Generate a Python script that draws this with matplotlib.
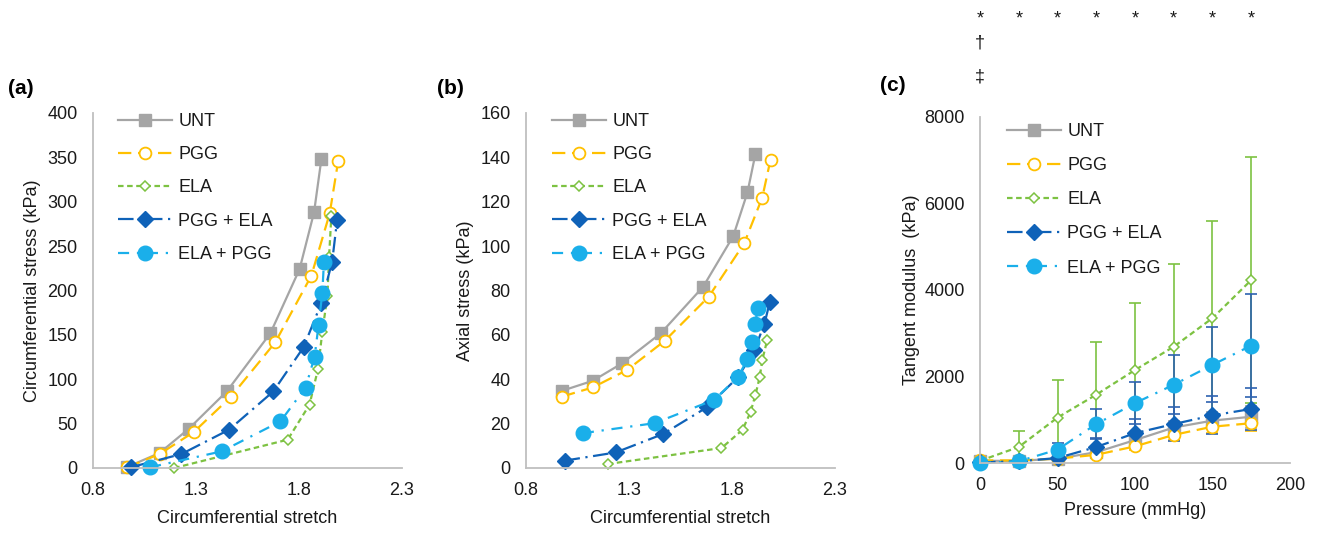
import matplotlib
matplotlib.use("Agg")
import matplotlib.pyplot as plt
from matplotlib.transforms import blended_transform_factory

plt.rcParams['font.family'] = ['Liberation Sans', 'DejaVu Sans']

# ---- data: panel (a) circumferential stress vs stretch ----
a_unt_x = [0.963, 1.123, 1.265, 1.449, 1.661, 1.803, 1.873, 1.909]
a_unt_y = [0.8, 16.9, 44.2, 86.2, 151.8, 224.2, 288.0, 348.7]
a_pgg_x = [0.966, 1.123, 1.289, 1.468, 1.685, 1.860, 1.949, 1.990]
a_pgg_y = [0.8, 15.7, 40.5, 79.9, 141.7, 216.7, 286.8, 345.6]
a_ela_x = [1.194, 1.745, 1.851, 1.892, 1.913, 1.938, 1.946, 1.957]
a_ela_y = [0.0, 31.9, 71.3, 111.4, 153.0, 194.3, 238.0, 284.0]
a_pe_x = [0.983, 1.229, 1.460, 1.675, 1.822, 1.908, 1.961, 1.985]
a_pe_y = [0.8, 15.7, 43.1, 86.2, 136.0, 185.6, 232.5, 279.4]
a_ep_x = [1.077, 1.424, 1.710, 1.832, 1.876, 1.895, 1.913, 1.921]
a_ep_y = [0.8, 18.7, 52.5, 90.7, 125.6, 161.2, 196.8, 231.7]

# ---- data: panel (b) axial stress vs stretch ----
b_unt_x = [0.975, 1.124, 1.267, 1.454, 1.660, 1.806, 1.875, 1.914]
b_unt_y = [34.8, 39.3, 47.2, 60.7, 81.7, 104.5, 124.2, 141.7]
b_pgg_x = [0.975, 1.124, 1.291, 1.473, 1.687, 1.859, 1.947, 1.987]
b_pgg_y = [32.2, 36.3, 44.2, 57.3, 77.2, 101.2, 121.9, 139.0]
b_ela_x = [1.197, 1.749, 1.851, 1.890, 1.914, 1.935, 1.947, 1.971]
b_ela_y = [1.8, 9.0, 17.2, 25.2, 33.0, 41.2, 48.7, 57.7]
b_pe_x = [0.987, 1.235, 1.465, 1.679, 1.830, 1.908, 1.957, 1.984]
b_pe_y = [3.3, 7.0, 15.3, 27.4, 41.0, 53.0, 64.8, 75.0]
b_ep_x = [1.076, 1.424, 1.713, 1.830, 1.874, 1.895, 1.911, 1.927]
b_ep_y = [15.7, 20.2, 30.7, 41.0, 49.0, 57.0, 64.8, 72.3]

# ---- data: panel (c) tangent modulus vs pressure ----
pressure = [0, 25, 50, 75, 100, 125, 150, 175]
c_unt = [50, 50, 100, 250, 530, 820, 980, 1070]
c_unt_err = [0, 0, 30, 60, 100, 150, 200, 250]
c_pgg = [60, 60, 100, 190, 385, 650, 840, 920]
c_pgg_err = [0, 0, 20, 50, 80, 120, 150, 170]
c_ela = [50, 370, 1050, 1580, 2150, 2690, 3350, 4230]
c_ela_err = [0, 380, 870, 1210, 1540, 1920, 2250, 2850]
c_pe = [15, 40, 115, 370, 690, 900, 1100, 1250]
c_pe_err = [0, 20, 150, 200, 330, 400, 440, 480]
c_ep = [0, 40, 310, 900, 1385, 1810, 2270, 2715]
c_ep_err = [0, 20, 150, 350, 480, 680, 870, 1190]

labels = ["UNT", "PGG", "ELA", "PGG + ELA", "ELA + PGG"]
sig_rows = ["*", "\u2020", "\u2021"]

GRAY = "#A5A5A5"
ORANGE = "#FFC000"
GREEN = "#7DC242"
DBLUE = "#0F62B8"
LBLUE = "#1AAFEA"
EBLUE = "#2E62B0"
TXT = "#1a1a1a"

styles = [
    dict(color=GRAY, lw=1.6, ls="-", marker="s", ms=9, mfc=GRAY, mec=GRAY),
    dict(color=ORANGE, lw=1.6, ls=(0, (6, 3)), marker="o", ms=8.5,
         mfc="white", mec=ORANGE, mew=1.3),
    dict(color=GREEN, lw=1.6, ls=(0, (2.5, 1.6)), marker="D", ms=5.5,
         mfc="white", mec=GREEN, mew=1.1),
    dict(color=DBLUE, lw=1.6, ls=(0, (7, 2.5, 1, 2.5)), marker="D", ms=8,
         mfc=DBLUE, mec=DBLUE),
    dict(color=LBLUE, lw=1.6, ls=(0, (5, 3.5, 1, 3.5)), marker="o", ms=10.5,
         mfc=LBLUE, mec=LBLUE),
]

W, H = 1323, 537
fig = plt.figure(figsize=(W / 100, H / 100), dpi=100)


def px_axes(l, t, r, b):
    return fig.add_axes([l / W, 1 - b / H, (r - l) / W, (b - t) / H])


def style_axes(ax):
    for s in ["top", "right"]:
        ax.spines[s].set_visible(False)
    for s in ["left", "bottom"]:
        ax.spines[s].set_color("#BFBFBF")
        ax.spines[s].set_linewidth(1.3)
    ax.tick_params(length=0, labelsize=13, colors=TXT)
    ax.tick_params(axis="y", pad=11)
    ax.tick_params(axis="x", pad=10)


def add_legend(ax, x, y, spacing):
    h, l = ax.get_legend_handles_labels()
    fig.legend(h, l, loc="upper left", bbox_to_anchor=(x / W, 1 - y / H),
               frameon=False, fontsize=13, borderpad=0, borderaxespad=0,
               handlelength=3.0, handletextpad=0.35, labelspacing=spacing,
               numpoints=1, labelcolor=TXT)


# panel (a)
ax_a = px_axes(93, 113, 402, 468)
series_a = [(a_unt_x, a_unt_y), (a_pgg_x, a_pgg_y), (a_ela_x, a_ela_y),
            (a_pe_x, a_pe_y), (a_ep_x, a_ep_y)]
for (x, y), lab, st in zip(series_a, labels, styles):
    ax_a.plot(x, y, label=lab, clip_on=False, **st)
ax_a.set_xlim(0.8, 2.3)
ax_a.set_ylim(0, 400)
ax_a.set_xticks([0.8, 1.3, 1.8, 2.3])
ax_a.set_yticks(range(0, 401, 50))
style_axes(ax_a)
ax_a.set_xlabel("Circumferential stretch", fontsize=13, color=TXT, labelpad=8)
ax_a.set_ylabel("Circumferential stress (kPa)", fontsize=13, color=TXT,
                labelpad=5)
add_legend(ax_a, 118, 113, 0.9)

# panel (b)
ax_b = px_axes(526, 113, 835, 468)
series_b = [(b_unt_x, b_unt_y), (b_pgg_x, b_pgg_y), (b_ela_x, b_ela_y),
            (b_pe_x, b_pe_y), (b_ep_x, b_ep_y)]
for (x, y), lab, st in zip(series_b, labels, styles):
    ax_b.plot(x, y, label=lab, clip_on=False, **st)
ax_b.set_xlim(0.8, 2.3)
ax_b.set_ylim(0, 160)
ax_b.set_xticks([0.8, 1.3, 1.8, 2.3])
ax_b.set_yticks(range(0, 161, 20))
style_axes(ax_b)
ax_b.set_xlabel("Circumferential stretch", fontsize=13, color=TXT, labelpad=8)
ax_b.set_ylabel("Axial stress (kPa)", fontsize=13, color=TXT, labelpad=5)
add_legend(ax_b, 552, 113, 0.9)

# panel (c)
ax_c = px_axes(980, 117, 1290, 463)
means_c = [c_unt, c_pgg, c_ela, c_pe, c_ep]
errs_c = [c_unt_err, c_pgg_err, c_ela_err, c_pe_err, c_ep_err]
ecols = [GRAY, ORANGE, GREEN, EBLUE, EBLUE]
for m, e, ec in zip(means_c, errs_c, ecols):
    ax_c.errorbar(pressure, m, yerr=e, fmt="none", ecolor=ec, elinewidth=1.2,
                  capsize=4.5, capthick=1.2, clip_on=False, zorder=1)
for m, lab, st in zip(means_c, labels, styles):
    ax_c.plot(pressure, m, label=lab, clip_on=False, zorder=2, **st)
ax_c.set_xlim(0, 200)
ax_c.set_ylim(0, 8000)
ax_c.set_xticks(range(0, 201, 50))
ax_c.set_yticks(range(0, 8001, 2000))
style_axes(ax_c)
ax_c.set_xlabel("Pressure (mmHg)", fontsize=13, color=TXT, labelpad=6)
ax_c.set_ylabel("Tangent modulus  (kPa)", fontsize=13, color=TXT, labelpad=3)
add_legend(ax_c, 1007, 123, 0.95)

# significance markers above panel (c)
tr = blended_transform_factory(ax_c.transData, fig.transFigure)
for p in pressure:
    ax_c.text(p, 1 - 19 / H, sig_rows[0], transform=tr, ha="center",
              va="center", fontsize=13, color=TXT)
ax_c.text(0, 1 - 43 / H, sig_rows[1], transform=tr, ha="center", va="center",
          fontsize=13, color=TXT)
ax_c.text(0, 1 - 77 / H, sig_rows[2], transform=tr, ha="center", va="center",
          fontsize=13, color=TXT)

# panel letters
for lx, ly, t in [(8, 88, "(a)"), (437, 88, "(b)"), (880, 86, "(c)")]:
    fig.text(lx / W, 1 - ly / H, t, fontsize=15, fontweight="bold",
             va="center", ha="left", color="black")

fig.savefig("out.png", dpi=100)
